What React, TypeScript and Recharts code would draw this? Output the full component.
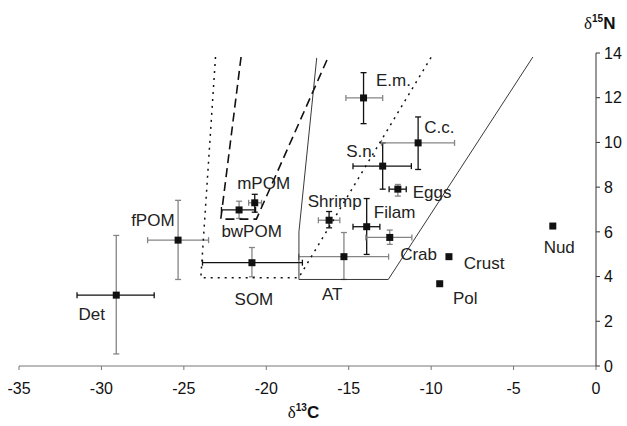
import React from 'react';
import { ComposedChart, Scatter, XAxis, YAxis, ErrorBar } from 'recharts';

const groups = ['Det', 'fPOM', 'bwPOM', 'mPOM', 'SOM', 'AT', 'Shrimp', 'Filam', 'Crab', 'S.n.', 'Eggs', 'C.c.', 'E.m.', 'Crust', 'Pol', 'Nud'];
const d13C = [-29.1, -25.35, -21.65, -20.7, -20.87, -15.29, -16.19, -13.91, -12.51, -12.94, -12.02, -10.79, -14.1, -8.92, -9.48, -2.62];
const d15N = [3.17, 5.63, 6.98, 7.3, 4.62, 4.89, 6.52, 6.23, 5.75, 8.94, 7.91, 9.98, 11.99, 4.89, 3.68, 6.26];

// error bar ends, null where the group has no bars
const cLow = [-31.48, -27.2, -22.72, -21.07, -23.87, -18.03, -16.84, -14.74, -13.96, -14.74, -12.55, -13.01, -15.17, null, null, null];
const cHigh = [-26.8, -23.5, -20.65, -20.29, -17.81, -12.58, -15.54, -13.11, -11.17, -11.2, -11.51, -8.58, -12.94, null, null, null];
const nLow = [0.54, 3.87, 6.6, 6.88, 3.99, 3.87, 6.18, 4.99, 5.44, 7.91, 7.6, 8.79, 10.84, null, null, null];
const nHigh = [5.84, 7.41, 7.37, 7.68, 5.3, 5.97, 6.91, 7.49, 6.08, 9.98, 8.12, 11.14, 13.12, null, null, null];
const xBarGray = [false, true, false, true, false, true, true, false, true, false, false, true, true];
const yBarGray = [true, true, true, false, true, true, false, false, true, false, true, false, false];

// label anchors (data units)
const labelC = [-30.59, -26.88, -20.89, -20.16, -20.75, -16.0, -15.85, -12.22, -10.76, -14.23, -9.94, -9.5, -12.29, -6.79, -7.93, -2.23];
const labelN = [2.32, 6.52, 6.0, 8.16, 2.99, 3.2, 7.37, 6.87, 5.0, 9.61, 7.75, 10.66, 12.78, 4.59, 3.02, 5.3];

// mixing polygons
const dottedC = [-23.08, -23.97, -18.03, -9.99];
const dottedN = [13.82, 3.95, 3.95, 13.82];
const dashedC = [-21.53, -22.76, -20.6, -16.24];
const dashedN = [13.82, 6.57, 6.57, 13.82];
const solidC = [-16.94, -18.02, -18.02, -12.6, -3.83];
const solidN = [13.78, 6.0, 3.87, 3.87, 13.82];

const xTicks = [-35, -30, -25, -20, -15, -10, -5, 0];
const yTicks = [0, 2, 4, 6, 8, 10, 12, 14];

const font = '"Liberation Sans", Arial, sans-serif';
const gray = '#858585';

const toPts = (cs: number[], ns: number[]) => cs.map((x, i) => ({ x, y: ns[i] }));

const points = groups.map((name, i) => ({
  name,
  x: d13C[i],
  y: d15N[i],
  ex: cLow[i] == null ? null : [d13C[i] - (cLow[i] as number), (cHigh[i] as number) - d13C[i]],
  ey: nLow[i] == null ? null : [d15N[i] - (nLow[i] as number), (nHigh[i] as number) - d15N[i]],
}));

const labels = groups.map((name, i) => ({ name, x: labelC[i], y: labelN[i] }));

const Square = (p: any) => <rect x={p.cx - 3.5} y={p.cy - 3.5} width={7} height={7} fill="#111" />;

const LabelText = (p: any) => (
  <text x={p.cx} y={p.cy} textAnchor="middle" dominantBaseline="central" fontFamily={font} fontSize={17} fill="#222">
    {p.payload.name}
  </text>
);

const XTitle = ({ viewBox }: any) => (
  <text x={viewBox.x + viewBox.width / 2 - 4} y={viewBox.y + 52} textAnchor="middle" fill="#111">
    <tspan fontFamily='"Liberation Serif", serif' fontSize={17}>δ</tspan>
    <tspan fontFamily={font} fontWeight="bold" fontSize={10} dy={-7}>13</tspan>
    <tspan fontFamily={font} fontWeight="bold" fontSize={17} dy={7}>C</tspan>
  </text>
);

const YTitle = ({ viewBox }: any) => (
  <text x={viewBox.x - 12} y={viewBox.y - 24} fill="#111">
    <tspan fontFamily='"Liberation Serif", serif' fontSize={17}>δ</tspan>
    <tspan fontFamily={font} fontWeight="bold" fontSize={10} dy={-7}>15</tspan>
    <tspan fontFamily={font} fontWeight="bold" fontSize={17} dy={7}>N</tspan>
  </text>
);

export default function App() {
  return (
    <div style={{ position: 'absolute', left: 0, top: 0, background: '#fff' }}>
      <ComposedChart width={627} height={426} margin={{ top: 53, right: 3, bottom: 30, left: 19 }}>
        <XAxis
          type="number"
          dataKey="x"
          domain={[-35, 0]}
          ticks={xTicks}
          allowDataOverflow
          height={30}
          stroke="#777"
          tickSize={4}
          tickMargin={13}
          tick={{ fill: '#111', fontSize: 16, fontFamily: font }}
          label={{ content: XTitle }}
        />
        <YAxis
          type="number"
          dataKey="y"
          orientation="right"
          domain={[0, 14]}
          ticks={yTicks}
          allowDataOverflow
          width={28}
          stroke="#333"
          tickSize={4}
          tickMargin={4}
          tick={{ fill: '#111', fontSize: 16, fontFamily: font }}
          label={{ content: YTitle }}
        />

        <Scatter data={toPts(dottedC, dottedN)} line={{ stroke: '#111', strokeWidth: 1.5, strokeDasharray: '2 5' }} shape={() => null} isAnimationActive={false} />
        <Scatter data={toPts(dashedC, dashedN)} line={{ stroke: '#111', strokeWidth: 1.6, strokeDasharray: '9 5' }} shape={() => null} isAnimationActive={false} />
        <Scatter data={toPts(solidC, solidN)} line={{ stroke: '#222', strokeWidth: 0.9 }} shape={() => null} isAnimationActive={false} />

        {points.map((p, i) => (
          <Scatter key={p.name} data={[p]} shape={Square} isAnimationActive={false}>
            {p.ex && <ErrorBar dataKey="ex" direction="x" width={3} stroke={xBarGray[i] ? gray : '#111'} strokeWidth={1.3} />}
            {p.ey && <ErrorBar dataKey="ey" direction="y" width={3} stroke={yBarGray[i] ? gray : '#111'} strokeWidth={1.3} />}
          </Scatter>
        ))}

        <Scatter data={labels} shape={LabelText} isAnimationActive={false} />
      </ComposedChart>
    </div>
  );
}
